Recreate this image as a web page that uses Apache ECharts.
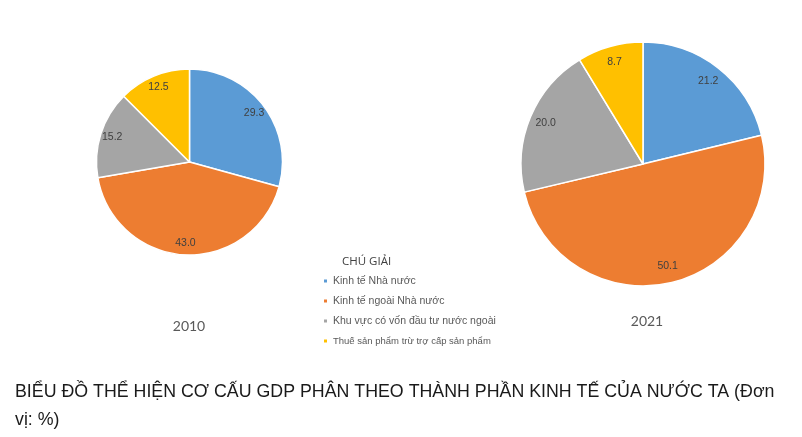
<!DOCTYPE html>
<html><head><meta charset="utf-8">
<script src="https://cdn.jsdelivr.net/npm/echarts@6/dist/echarts.min.js"></script>
<style>html,body{margin:0;padding:0;background:#fff}#c{width:802px;height:437px}</style>
</head><body><div id="c"></div>
<script>
const categories = ['Kinh tế Nhà nước','Kinh tế ngoài Nhà nước','Khu vực có vốn đầu tư nước ngoài','Thuế sản phẩm trừ trợ cấp sản phẩm'];
const values2010 = [29.3, 43.0, 15.2, 12.5];
const values2021 = [21.2, 50.1, 20.0, 8.7];
const years = ['2010','2021'];
const colors = ['#5B9BD5','#ED7D31','#A5A5A5','#FFC000'];

const mk = vals => categories.map((n,i)=>({name:n, value:vals[i]}));
function pieSeries(vals, center, r){
  return [{
    type:'pie', center:center, radius:[0,r], startAngle:90, clockwise:true,
    label:{show:false}, labelLine:{show:false}, silent:true,
    itemStyle:{borderColor:'#fff', borderWidth:1.5},
    data:mk(vals)
  },{
    type:'pie', center:center, radius:[r*0.7,r*0.98], startAngle:90, clockwise:true,
    silent:true, itemStyle:{color:'rgba(0,0,0,0)'},
    label:{show:true, position:'inside', color:'#404040', fontSize:10.5, fontFamily:'Liberation Sans, Arial',
      formatter:p=>p.value.toFixed(1)},
    labelLine:{show:false},
    data:mk(vals)
  }];
}
const chart = echarts.init(document.getElementById('c'));
chart.setOption({
  animation:false,
  color:colors,
  title:[
    {text:'CHÚ GIẢI', left:337, top:251, textStyle:{fontSize:11.5, fontWeight:'normal', color:'#404040', fontFamily:'Open Sans, Liberation Sans'}},
    {text:years[0], left:184, top:314, textAlign:'center', textStyle:{fontSize:14, fontWeight:'normal', color:'#595959', fontFamily:'Lato, Open Sans'}},
    {text:years[1], left:642, top:309, textAlign:'center', textStyle:{fontSize:14, fontWeight:'normal', color:'#595959', fontFamily:'Lato, Open Sans'}},
    {text:'BIỂU ĐỒ THỂ HIỆN CƠ CẤU GDP PHÂN THEO THÀNH PHẦN KINH TẾ CỦA NƯỚC TA (Đơn\nvị: %)', left:10, top:373,
      textStyle:{fontSize:17.8, fontWeight:'normal', color:'#1a1a1a', lineHeight:28, fontFamily:'Liberation Sans, Arial'}}
  ],
  legend:{
    orient:'vertical', left:317, top:270, itemGap:8, itemWidth:5, itemHeight:5, icon:'rect',
    textStyle:{fontSize:10.5, lineHeight:12, height:12, color:'#595959', fontFamily:'Liberation Sans, Arial',
      rich:{s:{fontSize:9.5, lineHeight:12, height:12, color:'#595959', fontFamily:'Liberation Sans, Arial'}}},
    formatter:n=> n===categories[3] ? '{s|'+n+'}' : n,
    data:categories
  },
  series:[...pieSeries(values2010,[189.5,162],93), ...pieSeries(values2021,[643,164],122)]
});
</script></body></html>
